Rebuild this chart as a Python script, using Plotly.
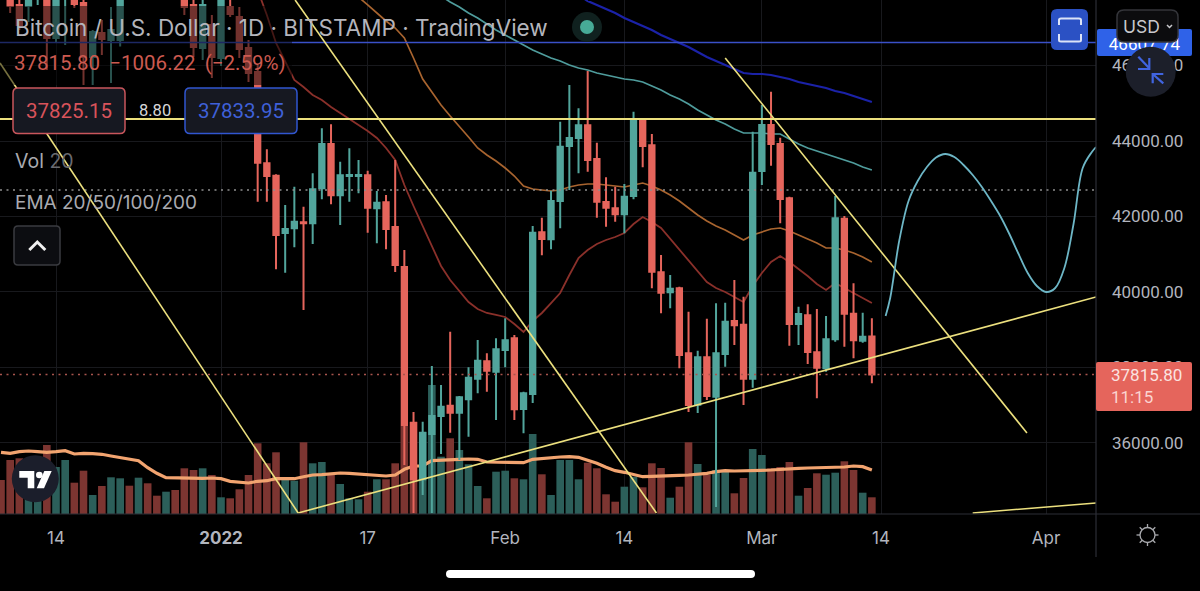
import pandas as pd
import plotly.graph_objects as go

# Daily BTC/USD candles, 8 Dec 2021 to 13 Mar 2022
dates = pd.date_range("2021-12-08", "2022-03-13", freq="D")

opens = [48700, 48000, 47603, 47576, 47870, 47900, 46728, 47815, 48600, 47656, 46225, 46861,
         46675, 46675, 49300, 48700, 50800, 50400, 50200, 50700, 50600, 47603, 46463, 47073,
         46199, 47550, 47285, 46463, 45828, 43409, 43081, 41563, 41687, 41846, 41820, 42747,
         43920, 42561, 43073, 43073, 43091, 42217, 42376, 41722, 40662, 36538, 35038, 36238,
         36715, 36988, 36803, 37157, 37703, 38164, 37889, 38464, 38773, 36901, 37298, 41581,
         41396, 42411, 43867, 44079, 44416, 43523, 42384, 42217, 42058, 42543, 44575, 43886,
         40522, 39992, 40098, 38376, 37012, 38270, 37226, 38357, 39232, 39134, 37703, 43205,
         44424, 43920, 42482, 39152, 39383, 38402, 37979, 38747, 41942, 39425, 38710, 38822]
highs = [49000, 48300, 47735, 48200, 48700, 48300, 48200, 49300, 49300, 47735, 46940, 47205,
         47550, 49300, 49500, 51300, 51800, 51100, 51200, 52000, 50700, 48100, 48000, 47338,
         47900, 47735, 47550, 46675, 46013, 43780, 43118, 42305, 42789, 42259, 43144, 44336,
         44442, 43452, 43807, 43497, 43213, 42675, 42569, 43497, 41112, 36821, 36564, 38040,
         37536, 38948, 37245, 38005, 38728, 38376, 38773, 39303, 38861, 37359, 41748, 41968,
         42683, 44511, 45483, 44866, 45854, 43955, 43038, 42789, 42861, 44776, 44601, 44185,
         40980, 40450, 40140, 39478, 38445, 39292, 39700, 39717, 40318, 39875, 44246, 44953,
         45306, 44087, 42524, 39610, 39674, 39550, 39364, 42543, 42013, 40230, 39452, 39303]
lows = [47900, 47390, 46940, 47152, 47600, 45881, 46596, 46543, 47523, 45483, 45483, 46278,
        45536, 46500, 47900, 48100, 50000, 49500, 49700, 50200, 47338, 46225, 46146, 45669,
        45987, 47285, 46199, 45563, 42392, 42392, 40601, 40511, 41184, 39523, 41271, 42456,
        42323, 41775, 42392, 42614, 41571, 41290, 41131, 40530, 35417, 34146, 34622, 34146,
        35709, 36273, 35550, 36167, 37316, 37359, 36609, 38005, 36609, 36257, 37059, 40972,
        41131, 41687, 42702, 43144, 43187, 41968, 41730, 41862, 41555, 42456, 43303, 40098,
        39436, 39568, 37979, 36821, 36794, 37139, 34304, 38021, 38596, 37007, 37465, 42834,
        43345, 41820, 38577, 38596, 38092, 37184, 37889, 38683, 38551, 38244, 38657, 37581]
closes = [48100, 47576, 47073, 48000, 48500, 46728, 47900, 48600, 47629, 46225, 46887, 46702,
          46940, 48800, 48700, 50800, 50400, 50200, 50700, 50600, 47550, 46490, 47603, 46225,
          47735, 47364, 46437, 45801, 43425, 43073, 41510, 41669, 41862, 41820, 42720, 43920,
          42561, 43091, 43099, 43099, 42233, 42365, 41669, 40715, 36477, 35038, 36273, 36715,
          36962, 36803, 37211, 37730, 38180, 37915, 38482, 38720, 36893, 37317, 41571, 41404,
          42411, 43849, 44079, 44416, 43497, 42392, 42233, 42058, 42524, 44575, 43867, 40538,
          39981, 40087, 38331, 37007, 38270, 37245, 38376, 39213, 39118, 37703, 43160, 44424,
          43920, 42463, 39152, 39417, 38411, 37994, 38747, 41952, 39425, 38720, 38816, 37815.8]

volumes = [3400, 5400, 5570, 3570, 3070, 6900, 4700, 5400, 3130, 4330, 1900, 2800,
           3670, 3570, 2830, 3630, 3070, 1830, 2230, 2400, 4570, 4400, 4570, 3900,
           1670, 1570, 2470, 3900, 7070, 5070, 6170, 3400, 3330, 7170, 5070, 5200,
           3900, 3000, 1570, 1470, 2230, 3470, 3470, 5070, 8800, 9200, 8200, 12900,
           5730, 7570, 6400, 4970, 2800, 1570, 4230, 4330, 3570, 3470, 8000, 3970,
           1900, 5400, 5400, 3470, 5130, 4570, 1970, 1230, 2730, 3730, 2670, 5070,
           4600, 1630, 2730, 7170, 5000, 3900, 4400, 4300, 2070, 3600, 6500, 5900,
           4570, 4700, 5200, 1830, 2600, 4070, 3930, 4130, 5270, 4400, 2130, 1670]
volume_ma = [6170, 6070, 6230, 6300, 6230, 6170, 6230, 6330, 6000, 6070, 6030, 5970,
             5800, 5670, 5500, 5330, 4630, 4070, 3630, 3600, 3630, 3600, 3570, 3600,
             3530, 3270, 3170, 3100, 3270, 3330, 3530, 3530, 3530, 3730, 3900, 3930,
             4030, 4100, 4070, 4000, 3970, 3830, 3800, 3900, 4470, 4800, 4800, 5330,
             5400, 5400, 5470, 5500, 5470, 5200, 5170, 5130, 5130, 5130, 5470, 5570,
             5630, 5700, 5730, 5670, 5370, 5070, 4670, 4330, 4170, 3930, 3730, 3770,
             3830, 3870, 3870, 3900, 3970, 4070, 4230, 4330, 4300, 4300, 4330, 4370,
             4400, 4470, 4570, 4570, 4600, 4630, 4630, 4630, 4700, 4800, 4730, 4400]

# Moving averages; each one ends on the last candle
ema20 = [47999, 47338, 46596, 46093, 45616, 45430, 45218, 45086, 44901, 44742, 44583, 44424,
         44265, 44079, 43815, 43497, 42834, 42278, 41748, 41218, 40689, 40318, 40026, 39735,
         39550, 39444, 39391, 39338, 39152, 38940, 39232, 39444, 39708, 39973, 40450, 40901,
         41112, 41271, 41377, 41457, 41563, 41801, 41987, 41854, 41695, 41404, 41112, 40821,
         40556, 40265, 40106, 40000, 39867, 39735, 40159, 40503, 40794, 40953, 40794, 40609,
         40424, 40212, 40053, 40238, 40106, 39973, 39841, 39708]
ema50 = [47999, 47814, 47603, 47391, 47179, 46993, 46728, 46199, 45642, 45298, 44954, 44662,
         44397, 44106, 43815, 43629, 43470, 43285, 43073, 42808, 42728, 42702, 42675, 42702,
         42781, 42834, 42861, 42861, 42834, 42808, 42781, 42834, 42887, 42808, 42702, 42569,
         42411, 42225, 42040, 41881, 41748, 41642, 41510, 41377, 41510, 41589, 41669, 41695,
         41616, 41510, 41404, 41298, 41165, 41165, 41112, 41033, 40927, 40794]
ema100 = [47841, 47682, 47550, 47391, 47258, 47099, 46940, 46808, 46675, 46543, 46411, 46305,
          46199, 46119, 46013, 45934, 45881, 45801, 45748, 45695, 45642, 45616, 45563, 45457,
          45351, 45218, 45112, 44980, 44821, 44689, 44556, 44450, 44318, 44212, 44212, 44212,
          44185, 44185, 44053, 43920, 43815, 43735, 43656, 43576, 43497, 43417, 43311, 43232]
ema200 = [47867, 47709, 47603, 47497, 47391, 47258, 47152, 47046, 46940, 46808, 46702, 46596,
          46490, 46357, 46225, 46119, 46013, 45907, 45801, 45775, 45775, 45748, 45695, 45642,
          45563, 45510, 45457, 45404, 45324, 45271, 45192, 45112, 45033]

# Hand-drawn forecast curve to the right of the last candle
forecast_dates = ["2022-03-14 12:00", "2022-03-15", "2022-03-16", "2022-03-17", "2022-03-18",
                  "2022-03-19", "2022-03-20", "2022-03-21", "2022-03-22", "2022-03-23",
                  "2022-03-24", "2022-03-25", "2022-03-26", "2022-03-27", "2022-03-28",
                  "2022-03-29", "2022-03-30", "2022-03-31", "2022-04-01", "2022-04-02",
                  "2022-04-03", "2022-04-04", "2022-04-05", "2022-04-06", "2022-04-06 10:48"]
forecast_prices = [39364, 39841, 41377, 42411, 42940, 43311, 43563, 43656, 43576, 43364,
                   43099, 42781, 42411, 42013, 41536, 41007, 40503, 40159, 40000, 40106,
                   40636, 41801, 43285, 43709, 43841]

# Drawn trendlines: start date, start price, end date, end price
trendlines = [
    ("2021-12-07 21:22", 46066, "2022-01-09 10:00", 34146),
    ("2022-01-09 02:00", 47735, "2022-02-17 12:00", 34146),
    ("2022-02-25 00:00", 46199, "2022-03-29 22:00", 36265),
    ("2022-01-09 10:00", 34146, "2022-04-06 10:48", 39867),
    ("2022-03-24 00:00", 34146, "2022-04-06 10:48", 34410),
]
resistance_level = 44583
ath_line_level = 46609
dotted_level = 42702
last_price = 37815.8

x_start, x_end = "2021-12-07 21:22", "2022-04-06 10:48"
y_low, y_high = 34119, 47735

tick_dates = ["2021-12-14", "2022-01-01", "2022-01-17", "2022-02-01", "2022-02-14",
              "2022-03-01", "2022-03-14", "2022-04-01"]
tick_names = ["14", "<b>2022</b>", "17", "Feb", "14", "Mar", "14", "Apr"]
price_ticks = [36000, 38000, 40000, 42000, 44000, 46000]

UP, DOWN = "#52a59c", "#e5655c"
VOL_UP, VOL_DOWN = "#2c5f5a", "#7c3531"
GRID = "#18191d"
EDGE = "#2c2e36"
LABEL = "#b2b5be"
YELLOW = "#ece07e"
FONT = "Inter"
NUMBERS = "Roboto"
WIDTH, HEIGHT = 1200, 591


def X(px):
    return px / WIDTH


def Y(py):
    return 1 - py / HEIGHT


def rounded(x0, y0, x1, y1, r):
    """Rounded rectangle path in paper coordinates, from pixel corners."""
    pts = [
        f"M{X(x0 + r)},{Y(y0)}", f"L{X(x1 - r)},{Y(y0)}", f"Q{X(x1)},{Y(y0)} {X(x1)},{Y(y0 + r)}",
        f"L{X(x1)},{Y(y1 - r)}", f"Q{X(x1)},{Y(y1)} {X(x1 - r)},{Y(y1)}",
        f"L{X(x0 + r)},{Y(y1)}", f"Q{X(x0)},{Y(y1)} {X(x0)},{Y(y1 - r)}",
        f"L{X(x0)},{Y(y0 + r)}", f"Q{X(x0)},{Y(y0)} {X(x0 + r)},{Y(y0)}", "Z",
    ]
    return "".join(pts)


def polyline(points, close=False):
    path = "".join(("M" if i == 0 else "L") + f"{X(a)},{Y(b)}" for i, (a, b) in enumerate(points))
    return path + ("Z" if close else "")


def panel(path, fill="rgba(0,0,0,0)", line=None, width=1.5, **extra):
    return dict(type="path", xref="paper", yref="paper", path=path, fillcolor=fill,
                line=dict(color=line or "rgba(0,0,0,0)", width=width if line else 0),
                layer="above", **extra)


def disc(cx, cy, r, fill):
    return dict(type="circle", xref="paper", yref="paper", x0=X(cx - r), x1=X(cx + r),
                y0=Y(cy + r), y1=Y(cy - r), fillcolor=fill, line=dict(width=0), layer="above")


def text(px, py, string, size, color, anchor="left", family=FONT):
    return dict(xref="paper", yref="paper", x=X(px), y=Y(py), text=string, showarrow=False,
                xanchor=anchor, yanchor="middle", font=dict(size=size, color=color, family=family))


fig = go.Figure()

# Volume pane shares the plot area, drawn first so everything else sits on top
fig.add_trace(go.Bar(x=dates, y=volumes, yaxis="y", showlegend=False, hoverinfo="skip",
                     marker=dict(color=[VOL_UP if c >= o else VOL_DOWN for o, c in zip(opens, closes)],
                                 line=dict(width=0))))
fig.add_trace(go.Scatter(x=dates, y=volume_ma, yaxis="y", mode="lines", hoverinfo="skip",
                         line=dict(color="#f2a470", width=3.2), showlegend=False))

# EMAs go behind the candles
for values, color, weight in ((ema200, "#1b22a8", 2.2), (ema100, "#4f9c9c", 1.7),
                              (ema50, "#a8642f", 1.7), (ema20, "#8a302a", 1.8)):
    fig.add_trace(go.Scatter(x=dates[-len(values):], y=values, yaxis="y2", mode="lines",
                             hoverinfo="skip", line=dict(color=color, width=weight), showlegend=False))

fig.add_trace(go.Candlestick(
    x=dates, open=opens, high=highs, low=lows, close=closes, yaxis="y3", whiskerwidth=0,
    showlegend=False, hoverinfo="skip",
    increasing=dict(line=dict(color=UP, width=2), fillcolor=UP),
    decreasing=dict(line=dict(color=DOWN, width=2), fillcolor=DOWN)))

# Level lines, trendlines and the forecast sit on top of the candles
levels = ((ath_line_level, "#3a50c8", 1.5, "solid"), (dotted_level, "#8f8f8f", 1.5, "2px,4.5px"),
          (last_price, "#a8544d", 1.5, "2px,4.5px"), (resistance_level, YELLOW, 2, "solid"))
for level, color, width, dash in levels:
    fig.add_trace(go.Scatter(x=[x_start, x_end], y=[level, level], yaxis="y4", mode="lines",
                             hoverinfo="skip", showlegend=False,
                             line=dict(color=color, width=width, dash=dash)))
for d0, p0, d1, p1 in trendlines:
    fig.add_trace(go.Scatter(x=[d0, d1], y=[p0, p1], yaxis="y4", mode="lines", hoverinfo="skip",
                             showlegend=False, line=dict(color=YELLOW, width=1.6)))
fig.add_trace(go.Scatter(x=forecast_dates, y=forecast_prices, yaxis="y4", mode="lines",
                         hoverinfo="skip", showlegend=False,
                         line=dict(color="#6db6c6", width=1.8, shape="spline")))

price_axis = dict(range=[y_low, y_high], domain=[1 - 514 / HEIGHT, 1], overlaying="y",
                  showgrid=False, zeroline=False, showticklabels=False, ticks="")

shapes = [
    # Axis frame
    dict(type="line", xref="paper", yref="paper", x0=X(1096), x1=X(1096), y0=Y(557), y1=1,
         line=dict(color=EDGE, width=1.2), layer="above"),
    dict(type="line", xref="paper", yref="paper", x0=0, x1=1, y0=Y(514), y1=Y(514),
         line=dict(color=EDGE, width=1.2), layer="above"),
    # Legend backdrop dims what runs under the header text
    dict(type="rect", xref="paper", yref="paper", x0=0, x1=X(292), y0=Y(85), y1=Y(6),
         fillcolor="rgba(0,0,0,0.5)", line=dict(width=0), layer="above"),
    # Status dot
    disc(587, 27, 15, "#10211f"),
    disc(587, 27, 7, "#47ab97"),
    # Bid / ask boxes
    panel(rounded(13, 88, 125, 133.5, 5), "#161821", "#c9565c"),
    panel(rounded(185, 88, 297, 133.5, 5), "#161821", "#3156d0"),
    # Collapse chevron button
    panel(rounded(14, 226, 60, 265, 4), "#0c0d11", "#3a3b40"),
    panel(polyline([(29.3, 250), (37.3, 242), (45.3, 250)]), line="#f0f0f0", width=3),
    # Exchange logo badge
    disc(35.3, 478.7, 23.5, "#1b1e2b"),
    panel(polyline([(19.3, 471), (34.3, 471), (34.3, 488.3), (27.7, 488.3), (27.7, 477.7), (19.3, 477.7)], True),
          "#ffffff"),
    disc(39.3, 475, 3.3, "#ffffff"),
    panel(polyline([(44.3, 471), (51.7, 471), (44, 488.3), (36.7, 488.3)], True), "#ffffff"),
    # Price tags on the right-hand scale
    panel(rounded(1096, 362, 1192, 411, 2), "#e5655c"),
    panel(rounded(1097, 29, 1192, 56, 2), "#2f62e8",
          label=dict(text="46607.74", textposition="middle center",
                     font=dict(size=17, color="#ffffff", family=NUMBERS))),
    # Fullscreen button
    panel(rounded(1051, 9, 1088, 50, 6), "#2b51c4"),
    panel(f"M{X(1059)},{Y(25)}L{X(1059)},{Y(20)}Q{X(1059)},{Y(18.5)} {X(1061)},{Y(18.5)}"
          f"L{X(1079)},{Y(18.5)}Q{X(1081)},{Y(18.5)} {X(1081)},{Y(20)}L{X(1081)},{Y(25)}", line="#dbe3f7", width=2),
    panel(f"M{X(1059)},{Y(34)}L{X(1059)},{Y(40)}Q{X(1059)},{Y(41.5)} {X(1061)},{Y(41.5)}"
          f"L{X(1079)},{Y(41.5)}Q{X(1081)},{Y(41.5)} {X(1081)},{Y(40)}L{X(1081)},{Y(34)}", line="#dbe3f7", width=2),
    # Currency selector
    panel(rounded(1117, 10, 1178, 42, 7), "#0c0c0e", "#34353a"),
    panel(polyline([(1167, 25), (1169.5, 27.5), (1172, 25)]), line="#c8c8cc", width=1.5),
    # Collapse-scale circle
    disc(1150.7, 71.7, 25, "#1c1f2a"),
    panel(polyline([(1138.3, 56.7), (1149.3, 68.3)]), line="#4064e0", width=2.2),
    panel(polyline([(1138, 69), (1149.3, 69), (1149.3, 58)]), line="#4064e0", width=2.2),
    panel(polyline([(1163.3, 83.3), (1152.7, 74)]), line="#4064e0", width=2.2),
    panel(polyline([(1152.7, 83.3), (1152.7, 74), (1163.3, 74)]), line="#4064e0", width=2.2),
    # Theme icon
    dict(type="circle", xref="paper", yref="paper", x0=X(1140), x1=X(1155), y0=Y(542.5), y1=Y(527.5),
         line=dict(color="#a8a9ad", width=1.3), layer="above"),
    panel(polyline([(1147.5, 524), (1147.5, 527.5)]), line="#a8a9ad", width=1.3),
    panel(polyline([(1147.5, 542.5), (1147.5, 546)]), line="#a8a9ad", width=1.3),
    panel(polyline([(1136.5, 535), (1140, 535)]), line="#a8a9ad", width=1.3),
    panel(polyline([(1155, 535), (1158.5, 535)]), line="#a8a9ad", width=1.3),
    panel(polyline([(1139.7, 527.2), (1142.2, 529.7)]), line="#a8a9ad", width=1.3),
    panel(polyline([(1152.8, 540.3), (1155.3, 542.8)]), line="#a8a9ad", width=1.3),
    panel(polyline([(1155.3, 527.2), (1152.8, 529.7)]), line="#a8a9ad", width=1.3),
    panel(polyline([(1142.2, 540.3), (1139.7, 542.8)]), line="#a8a9ad", width=1.3),
    # Home indicator
    panel(rounded(446, 570, 755, 578, 4), "#ffffff"),
]

annotations = [
    text(12.5, 27, "Bitcoin / U.S. Dollar · 1D · BITSTAMP · TradingView", 22.5, "#b4b5bc"),
    text(12, 63, "37815.80 \u2009−1006.22 \u2009(−2.59%)", 20.5, "#cc5a50", family=NUMBERS),
    text(69, 110.5, "37825.15", 20.5, "#d9535b", "center", family=NUMBERS),
    text(155, 110.5, "8.80", 16.5, "#d6d6d8", "center", family=NUMBERS),
    text(241, 110.5, "37833.95", 20.5, "#3f60d8", "center", family=NUMBERS),
    text(12.5, 161, "Vol <span style='color:#6a6b70'>20</span>", 19.5, "#a9aab0"),
    text(12.5, 203, "EMA 20/50/100/200", 19, "#a9aab0"),
    text(1146.5, 375, "37815.80", 17, "#fbe3e0", "center", family=NUMBERS),
    text(1132, 397, "11:15", 17, "#fbd4d0", "center", family=NUMBERS),
    text(1141, 26, "USD", 17.5, "#c8c8cc", "center"),
]

fig.update_layout(
    width=WIDTH, height=HEIGHT,
    margin=dict(l=0, r=0, t=0, b=0),
    paper_bgcolor="#000000", plot_bgcolor="#000000",
    font=dict(family=FONT, color=LABEL),
    bargap=0.17, boxgap=0.17,
    showlegend=False,
    xaxis=dict(type="date", range=[x_start, x_end], domain=[0, 1096 / WIDTH],
               tickmode="array", tickvals=tick_dates, ticktext=tick_names,
               tickfont=dict(size=17, color=LABEL, family=FONT), showgrid=True, gridcolor=GRID, gridwidth=1,
               zeroline=False, showline=False, ticks="", ticklabelstandoff=12,
               rangeslider=dict(visible=False), fixedrange=True),
    yaxis=dict(range=[0, 51400], domain=[1 - 514 / HEIGHT, 1], showgrid=False, zeroline=False,
               showticklabels=False, ticks="", fixedrange=True),
    yaxis2=price_axis,
    yaxis3=dict(price_axis, showgrid=True, gridcolor=GRID, gridwidth=1, side="right",
                showticklabels=True, tickmode="array", tickvals=price_ticks,
                ticktext=[f"{v}.00" for v in price_ticks], ticklabelstandoff=15,
                tickfont=dict(size=17, color=LABEL, family=NUMBERS)),
    yaxis4=price_axis,
    shapes=shapes,
    annotations=annotations,
)

fig.write_html("out.html", config=dict(displayModeBar=False))
